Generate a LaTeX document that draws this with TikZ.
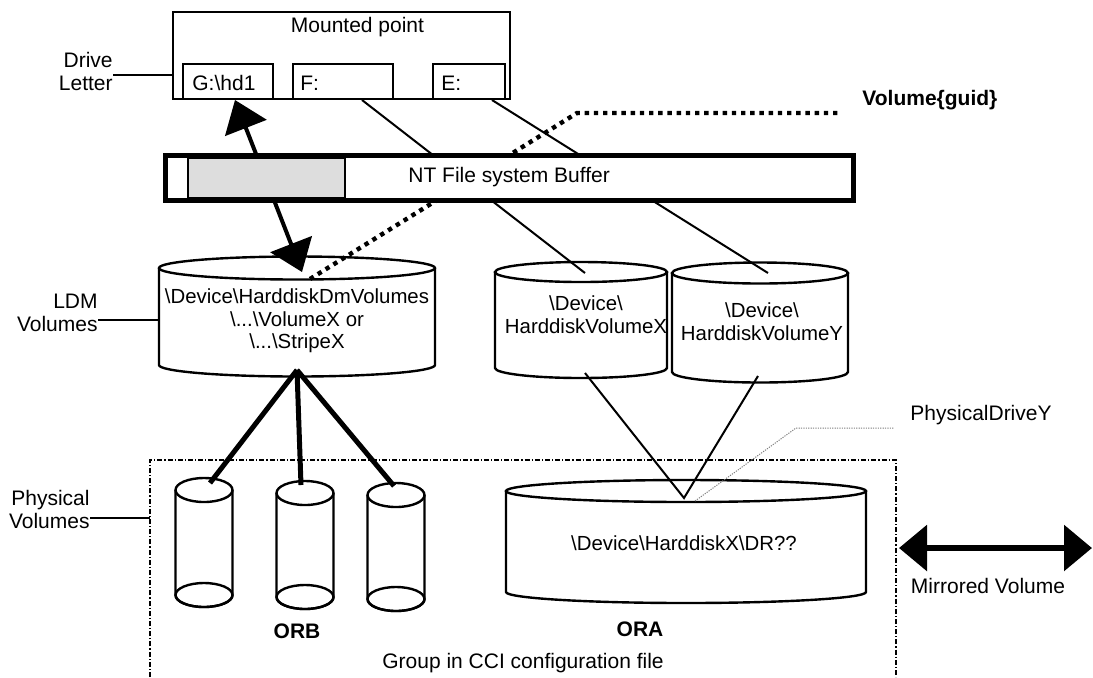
\documentclass[tikz,border=0pt]{standalone}
\usepackage{fontspec}
\setmainfont{Liberation Sans}
\usetikzlibrary{calc,arrows.meta}
\definecolor{cellgray}{HTML}{DDDDDD}
\tikzset{
  every node/.style={font=\fontsize{10.5}{11.5}\selectfont, inner sep=0pt},
  box/.style={draw, line width=1pt, inner sep=0pt},
  cyl/.style={line width=1.2pt},
  cyltext/.style={font=\fontsize{10.2}{11.25}\selectfont, align=center},
  thinln/.style={line width=1pt},
  leader/.style={line width=0.8pt},
  bigarrow/.style={line width=2pt, {Triangle[length=15pt,width=22pt]}-{Triangle[length=15pt,width=22pt]}},
  thickln/.style={line width=2.5pt},
  guidln/.style={line width=2.2pt, dash pattern=on 2.2pt off 2.4pt},
  grpln/.style={line width=0.8pt, dash pattern=on 2.5pt off 1pt on 0.6pt off 1pt},
  pdln/.style={line width=0.5pt, gray, dash pattern=on 0.6pt off 0.6pt},
  mirrorln/.style={line width=3pt, {Triangle[length=14pt,width=22.5pt]}-{Triangle[length=14pt,width=22.5pt]}},
}
% name, cx, ytop, ybot, rx, ry, fullbottom
\newcommand\mydrum[7]{%
  \coordinate (#1-t) at (#2,#3);
  \coordinate (#1-b) at (#2,#4);
  \coordinate (#1-l) at ($(#1-t)+(-#5,0)$);
  \path[fill=white] ($(#1-t)+(-#5,0)$) -- ($(#1-b)+(-#5,0)$) arc[start angle=180,end angle=0,x radius=#5,y radius=#6] -- ($(#1-t)+(#5,0)$) -- cycle;
  \draw[cyl] ($(#1-t)+(-#5,0)$) -- ($(#1-b)+(-#5,0)$) arc[start angle=180,end angle=0,x radius=#5,y radius=#6] -- ($(#1-t)+(#5,0)$);
  \ifnum#7=1 \draw[cyl] (#1-b) ellipse[x radius=#5,y radius=#6];\fi
  \draw[cyl,fill=white] (#1-t) ellipse[x radius=#5,y radius=#6];
}
\begin{document}
\begin{tikzpicture}[x=0.5pt,y=-0.5pt]
\useasboundingbox (0,0) rectangle (1093,677);

% Mounted point box
\node[box, minimum width=168.5pt, minimum height=43.5pt] (mp) at (341.5,55.5) {};
\node[anchor=base] (mptxt) at (357.5,32) {Mounted point};
\node[box, minimum width=45pt, minimum height=17.5pt] (gbox) at (228,81.5) {};
\node[box, minimum width=50pt, minimum height=17.5pt] (fbox) at (343,81.5) {};
\node[box, minimum width=36pt, minimum height=17.5pt] (ebox) at (469,81.5) {};
\node[anchor=base west] (gtxt) at (192,90) {G:\textbackslash hd1};
\node[anchor=base west] (ftxt) at (300,90) {F:};
\node[anchor=base west] (etxt) at (441,90) {E:};

% left labels
\node[align=right, anchor=east] (dl) at (113,71) {Drive\\Letter};
\node[align=right, anchor=east] (ldmlab) at (98,313) {LDM\\Volumes};
\node[align=right, anchor=east] (physlab) at (90,509.5) {Physical\\Volumes};

% cylinders
\mydrum{ldm}{297}{268}{365}{138}{11.5}{0}
\mydrum{cx}{581}{272}{368}{86}{10}{0}
\mydrum{cy}{760}{273}{372}{88}{10.5}{0}
\mydrum{sa}{204}{490}{595}{28.5}{12}{1}
\mydrum{sb}{305}{493}{597}{28.5}{12}{1}
\mydrum{sc}{396}{495}{599}{28.5}{12}{1}
\mydrum{ora}{686}{491}{592}{180}{11}{0}

\node[cyltext, anchor=north] (ldmtxt) at (297,288.4) {\textbackslash Device\textbackslash HarddiskDmVolumes\\\textbackslash...\textbackslash VolumeX or\\\textbackslash...\textbackslash StripeX};
\node[cyltext, anchor=north] (cxtxt) at (586,295.4) {\textbackslash Device\textbackslash\\HarddiskVolumeX};
\node[cyltext, anchor=north] (cytxt) at (762,302.4) {\textbackslash Device\textbackslash\\HarddiskVolumeY};
\node[cyltext, anchor=base] (oratxt) at (684,550) {\textbackslash Device\textbackslash HarddiskX\textbackslash DR??};

\node[anchor=base, font=\fontsize{10.5}{11.5}\selectfont\bfseries] (orb) at (297,638) {ORB};
\node[anchor=base, font=\fontsize{10.5}{11.5}\selectfont\bfseries] (ora) at (640,636) {ORA};
\node[anchor=base] (grplab) at (523,668) {Group in CCI configuration file};

% group frame
\coordinate (grpTL) at (150,460);
\coordinate (grpTR) at (896,460);
\draw[grpln] (grpTL |- 0,677) -- (grpTL) -- (grpTR) -- (grpTR |- 0,677);

% leaders
\draw[leader] (dl.east |- 0,75) -- (mp.west |- 0,75);
\draw[leader] (ldmlab.east |- 0,320) -- (ldm-l |- 0,320);
\draw[leader] (physlab.east |- 0,518) -- (grpTL |- 0,518);

% connectors
\draw[thinln] ($(fbox.south)+(19,0)$) -- ($(cx-t)+(4,1)$);
\draw[thinln] ($(ebox.south)+(23,0)$) -- ($(cy-t)+(8,0)$);
\coordinate (gbend) at (577,113);
\coordinate (gend) at (840,113);
\node[anchor=base west, font=\fontsize{10.5}{11.5}\selectfont\bfseries] (guid) at (862,105) {Volume\{guid\}};
\draw[guidln] ($(ldm-t)+(13,11)$) -- (gbend) -- (gend);
\draw[bigarrow] ($(ldm-t)+(5,4)$) -- ($(gbox.south)+(7,0)$);

\draw[thickln] ($(ldm-b)+(0,5)$) -- ($(sa-t)+(6,-7)$);
\draw[thickln] ($(ldm-b)+(0,5)$) -- ($(sb-t)+(-4,-8)$);
\draw[thickln] ($(ldm-b)+(0,5)$) -- ($(sc-t)+(-2,-9)$);

\draw[thinln] ($(cx-b)+(4,5)$) -- ($(ora-t)+(-2,7)$) -- ($(cy-b)+(-2,4)$);

\node[anchor=base west] (pdlab) at (910,420) {PhysicalDriveY};
\coordinate (pdbend) at (796,428);
\coordinate (pdend) at (894,428);
\draw[pdln] ($(ora-t)+(9,10)$) -- (pdbend) -- (pdend);

\coordinate (mirL) at (899,548);
\coordinate (mirR) at (1092,548);
\draw[mirrorln] (mirL) -- (mirR);
\node[anchor=base] (mirlab) at (988,593) {Mirrored Volume};

% buffer on top
\node[draw, line width=2.5pt, fill=white, minimum width=344pt, minimum height=22.5pt] (buf) at (509.5,178) {};
\node[draw, line width=0.8pt, fill=cellgray, minimum width=78.5pt, minimum height=20pt] (bufcell) at (266.5,178) {};
\node[anchor=base west] (buftxt) at (408,182) {NT File system Buffer};
\end{tikzpicture}
\end{document}
